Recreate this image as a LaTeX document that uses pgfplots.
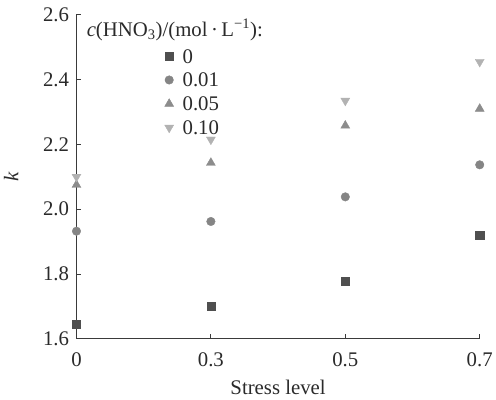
\documentclass[border=0pt]{standalone}
\usepackage{fontspec}
\setmainfont{Liberation Serif}
\usepackage{pgfplots}
\pgfplotsset{compat=1.18}
\definecolor{axisgray}{HTML}{3A3A3A}
\definecolor{txt}{HTML}{2A2A2A}
\definecolor{cA}{HTML}{4F4F4F}
\definecolor{cB}{HTML}{858585}
\definecolor{cC}{HTML}{8C8C8C}
\definecolor{cD}{HTML}{B2B2B2}
\newcommand{\fs}{\fontsize{21}{25}\selectfont}
\begin{document}
\begin{tikzpicture}[font=\fs]
\begin{axis}[
  at={(0,0)}, anchor=south west,
  scale only axis, width=406bp, height=326bp,
  xmin=0, xmax=3, ymin=1.6, ymax=2.6,
  axis lines=left,
  axis line style={-, color=axisgray, line width=0.8bp},
  xtick={0,1,2,3}, xticklabels={0,0.3,0.5,0.7},
  ytick={1.6,1.8,2.0,2.2,2.4,2.6},
  yticklabels={1.6,1.8,2.0,2.2,2.4,2.6},
  tick style={color=axisgray, line width=0.8bp},
  major tick length=5bp,
  tick align=inside,
  minor tick num=0,
  tick label style={font=\fs, text=txt},
  yticklabel style={xshift=-4bp},
  xticklabel style={yshift=-11bp},
  label style={font=\fs, text=txt},
  xlabel={Stress level},
  xlabel style={yshift=-6bp},
  ylabel={\textit{k}},
  ylabel style={yshift=18bp},
  clip=false,
  legend cell align=left,
  legend style={draw=none, fill=none, at={(0.211,0.91)}, anchor=north west,
    font=\fs, text=txt, row sep=4bp, column sep=8bp,
    nodes={inner sep=1bp, text height=16bp, text depth=2bp}},
  legend image code/.code={\draw[#1] plot coordinates {(0.15cm,0cm)};},
]
\addplot[only marks, mark=square*, mark size=4.1bp, color=cA] coordinates {
 (0,1.645) (1,1.700) (2,1.778) (3,1.920)};
\addlegendentry{0}
\addplot[only marks, mark=*, mark size=4.3bp, color=cB] coordinates {
 (0,1.932) (1,1.962) (2,2.038) (3,2.137)};
\addlegendentry{0.01}
\addplot[only marks, mark=triangle*, mark size=5.2bp, color=cC] coordinates {
 (0,2.075) (1,2.143) (2,2.258) (3,2.310)};
\addlegendentry{0.05}
\addplot[only marks, mark=triangle*, mark size=5.2bp, mark options={rotate=180}, color=cD] coordinates {
 (0,2.100) (1,2.215) (2,2.335) (3,2.455)};
\addlegendentry{0.10}
\node[anchor=west, inner sep=0pt, font=\fs, text=txt] at (rel axis cs:0.025,0.954)
  {\textit{c}(HNO\textsubscript{3})/(mol\,·\,L\textsuperscript{−1}):};
\end{axis}
\useasboundingbox (-77bp,-61bp) rectangle (419bp,341bp);
\end{tikzpicture}
\end{document}
